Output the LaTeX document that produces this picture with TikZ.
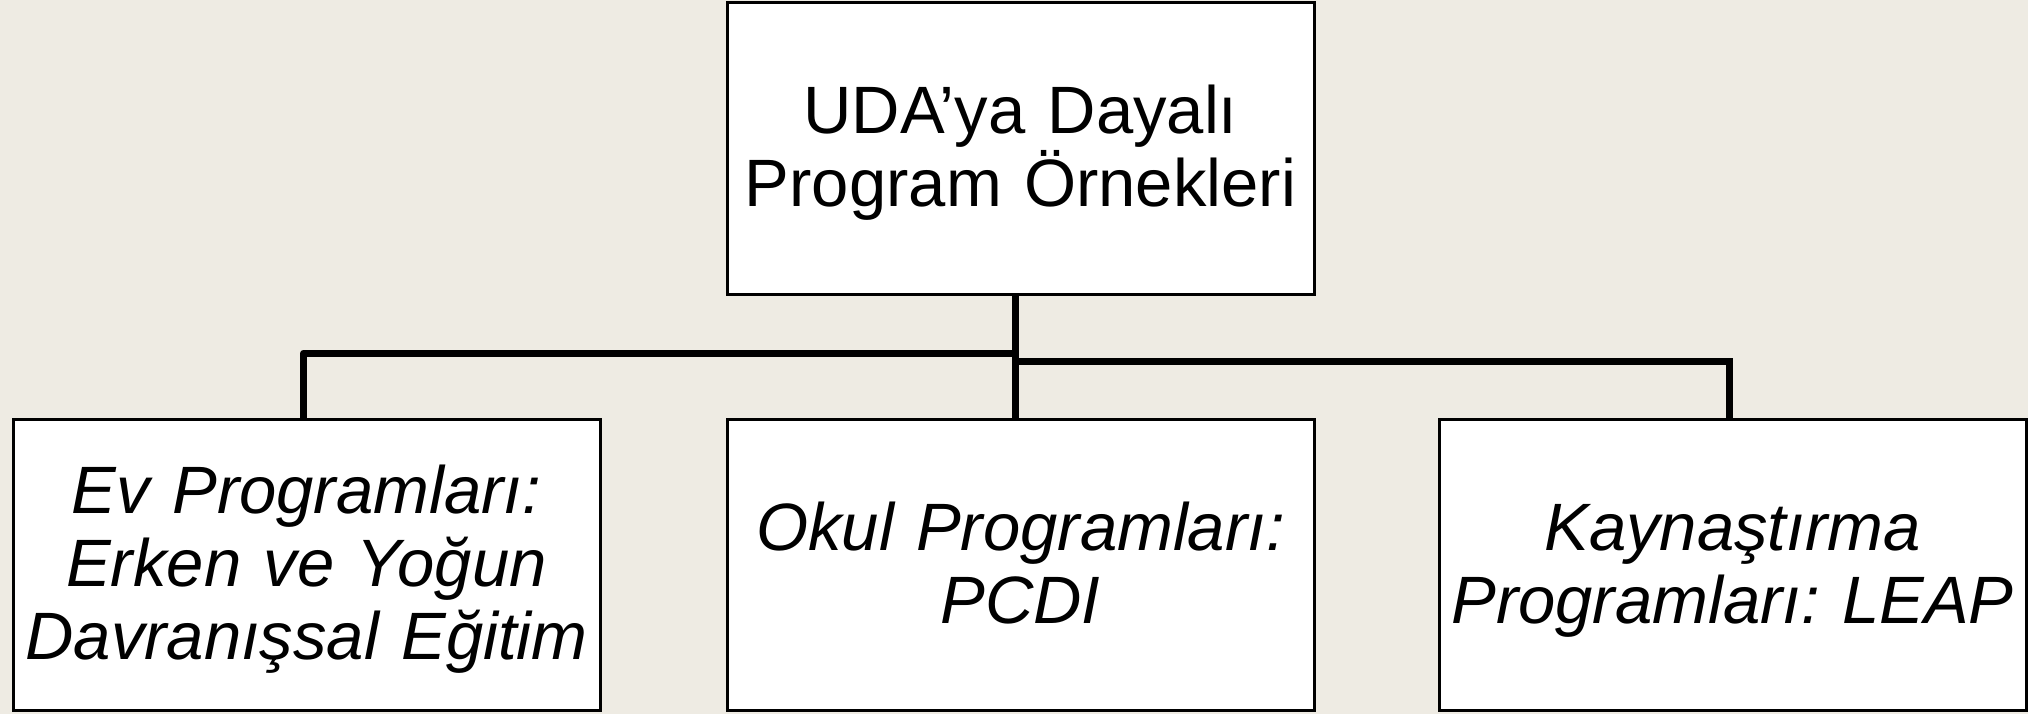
\documentclass[tikz,border=0pt]{standalone}
\usepackage{fontspec}
\setmainfont{Liberation Sans}
\frenchspacing
\definecolor{bgc}{RGB}{238,235,227}
\newcommand{\boxfont}{\fontsize{67}{73}\selectfont}
\newcommand{\tstr}{\rule{0pt}{59pt}}
\newcommand{\bstr}{\rule[-16pt]{0pt}{16pt}}
\tikzset{
  box/.style={draw=black, line width=3pt, fill=white, minimum width=587pt, minimum height=291pt,
    inner sep=0pt, align=center, text width=580pt, font=\boxfont},
  itbox/.style={box, font=\boxfont\itshape},
  conn/.style={draw=black, line width=7pt}
}
\begin{document}
\begin{tikzpicture}[x=1pt,y=-1pt]
\fill[bgc] (0,0) rectangle (2028,714);
\path[use as bounding box] (0,0) rectangle (2028,714);
\coordinate (jl) at (1015,353);
\coordinate (jr) at (1015,361);
\node[box] (top) at (1020.5,148.5) {\tstr UDA’ya Dayalı\\Program Örnekleri\bstr};
\node[itbox] (left) at (306.5,565) {\tstr Ev Programları:\\Erken ve Yoğun\\Davranışsal Eğitim\bstr};
\node[itbox] (mid) at (1020.5,565) {\tstr Okul Programları:\\PCDI\bstr};
\node[itbox] (right) at (1732.5,565) {\tstr Kaynaştırma\\Programları: LEAP\bstr};
\draw[conn] (top.south -| jl) -- (mid.north -| jl);
\draw[conn, line join=round] (jl) -| ([xshift=-3pt]left.north);
\draw[conn] (jr) -| ([xshift=-3pt]right.north);
\end{tikzpicture}
\end{document}
